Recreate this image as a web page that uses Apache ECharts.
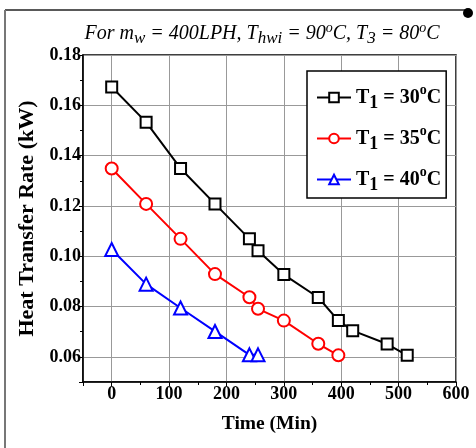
<!DOCTYPE html>
<html>
<head>
<meta charset="utf-8">
<script src="https://cdn.jsdelivr.net/npm/echarts@6/dist/echarts.min.js"></script>
<style>html,body{margin:0;padding:0;background:#fff;}#c{width:476px;height:448px;}</style>
</head>
<body>
<div id="c"></div>
<script>
var seriesNames = ['T1 = 30oC', 'T1 = 35oC', 'T1 = 40oC'];
var legendTemps = ['30', '35', '40'];
var time30 = [0, 60, 120, 180, 240, 255, 300, 360, 395, 420, 480, 515];
var rate30 = [0.1673, 0.1533, 0.1349, 0.1208, 0.1069, 0.1022, 0.0927, 0.0836, 0.0744, 0.0704, 0.0651, 0.0606];
var time35 = [0, 60, 120, 180, 240, 255, 300, 360, 395];
var rate35 = [0.1349, 0.1208, 0.1069, 0.0929, 0.0837, 0.0791, 0.0744, 0.0652, 0.0606];
var time40 = [0, 60, 120, 180, 240, 255];
var rate40 = [0.1027, 0.0889, 0.0794, 0.0701, 0.0608, 0.0608];
var colors = ['#000000', '#ff0000', '#0000ff'];
var symbols = ['rect', 'circle', 'triangle'];

function pairs(xs, ys) { return xs.map(function (x, i) { return [x, ys[i]]; }); }
var datasets = [pairs(time30, rate30), pairs(time35, rate35), pairs(time40, rate40)];

var F = '"Liberation Serif", "Times New Roman", serif';
var chart = echarts.init(document.getElementById('c'), null, { renderer: 'canvas' });

var series = datasets.map(function (d, i) {
  return {
    name: seriesNames[i],
    type: 'line',
    data: d,
    symbol: symbols[i],
    symbolSize: i === 2 ? 13 : (i === 1 ? 12 : 11),
    showAllSymbol: true,
    lineStyle: { color: colors[i], width: 2 },
    itemStyle: { color: '#fff', borderColor: colors[i], borderWidth: 2 },
    emphasis: { disabled: true },
    animation: false,
    z: 3 + i
  };
});

chart.setOption({
  animation: false,
  backgroundColor: '#fff',
  title: {
    text: 'For m{sub|w} = 400LPH, T{sub|hwi} = 90{sup|o}C, T{sub|3} = 80{sup|o}C',
    left: 257, top: 16, textAlign: 'center',
    textStyle: {
      fontFamily: F, fontStyle: 'italic', fontWeight: 'normal', fontSize: 20, color: '#000', lineHeight: 26,
      rich: {
        sub: { fontFamily: F, fontStyle: 'italic', fontSize: 17, lineHeight: 17, verticalAlign: 'bottom', color: '#000' },
        sup: { fontFamily: F, fontStyle: 'italic', fontSize: 14, lineHeight: 14, verticalAlign: 'top', color: '#000' }
      }
    }
  },
  grid: { left: 83, top: 55, right: 20, bottom: 66, show: true, borderColor: '#000', borderWidth: 1.5, containLabel: false },
  legend: {
    orient: 'vertical', left: 307, top: 71,
    backgroundColor: '#fff', borderColor: '#000', borderWidth: 1.5,
    padding: [12, 5, 4, 9], itemGap: 12, itemWidth: 34, itemHeight: 12,
    data: seriesNames,
    formatter: function (name) {
      var k = seriesNames.indexOf(name);
      return '{b|T}{sub|1}{b| = ' + legendTemps[k] + '}{sup|o}{b|C}';
    },
    textStyle: {
      fontFamily: F, fontWeight: 'bold', fontSize: 20, color: '#000', lineHeight: 29,
      rich: {
        b: { fontFamily: F, fontWeight: 'bold', fontSize: 20, color: '#000' },
        sub: { fontFamily: F, fontWeight: 'bold', fontSize: 18, lineHeight: 18, verticalAlign: 'bottom', color: '#000' },
        sup: { fontFamily: F, fontWeight: 'bold', fontSize: 14, lineHeight: 14, verticalAlign: 'top', color: '#000' }
      }
    }
  },
  xAxis: {
    type: 'value', min: -50, max: 600, splitNumber: 6,
    name: 'Time (Min)', nameLocation: 'middle', nameGap: 32,
    nameTextStyle: { fontFamily: F, fontWeight: 'bold', fontSize: 19.5, color: '#000' },
    axisLine: { show: true, onZero: false, lineStyle: { color: '#000', width: 1.5 } },
    axisTick: { show: true, inside: false, length: 4, lineStyle: { color: '#000' } },
    minorTick: { show: true, splitNumber: 2, length: 3, lineStyle: { color: '#000' } },
    axisLabel: {
      fontFamily: F, fontWeight: 'bold', fontSize: 18, color: '#000', margin: 3,
      formatter: function (v) { return v < 0 ? '' : String(v); }
    },
    splitLine: { show: true, lineStyle: { color: '#999', width: 1 } }
  },
  yAxis: {
    type: 'value', min: 0.05, max: 0.18, splitNumber: 6,
    name: 'Heat Transfer Rate (kW)', nameLocation: 'middle', nameGap: 39,
    nameTextStyle: { fontFamily: F, fontWeight: 'bold', fontSize: 22, color: '#000' },
    axisLine: { show: true, onZero: false, lineStyle: { color: '#000', width: 1.5 } },
    axisTick: { show: true, inside: false, length: 4, lineStyle: { color: '#000' } },
    minorTick: { show: true, splitNumber: 2, length: 3, lineStyle: { color: '#000' } },
    axisLabel: {
      fontFamily: F, fontWeight: 'bold', fontSize: 18, color: '#000', margin: 2,
      formatter: function (v) { return v < 0.055 ? '' : v.toFixed(2); }
    },
    splitLine: { show: true, lineStyle: { color: '#999', width: 1 } }
  },
  graphic: [
    { type: 'line', shape: { x1: 5, y1: 10, x2: 468, y2: 10 }, style: { stroke: '#222', lineWidth: 1.5 }, silent: true },
    { type: 'line', shape: { x1: 5, y1: 10, x2: 5, y2: 448 }, style: { stroke: '#777', lineWidth: 2 }, silent: true },
    { type: 'circle', shape: { cx: 468, cy: 13, r: 5 }, style: { fill: '#000' }, silent: true }
  ],
  series: series
});
</script>
</body>
</html>
